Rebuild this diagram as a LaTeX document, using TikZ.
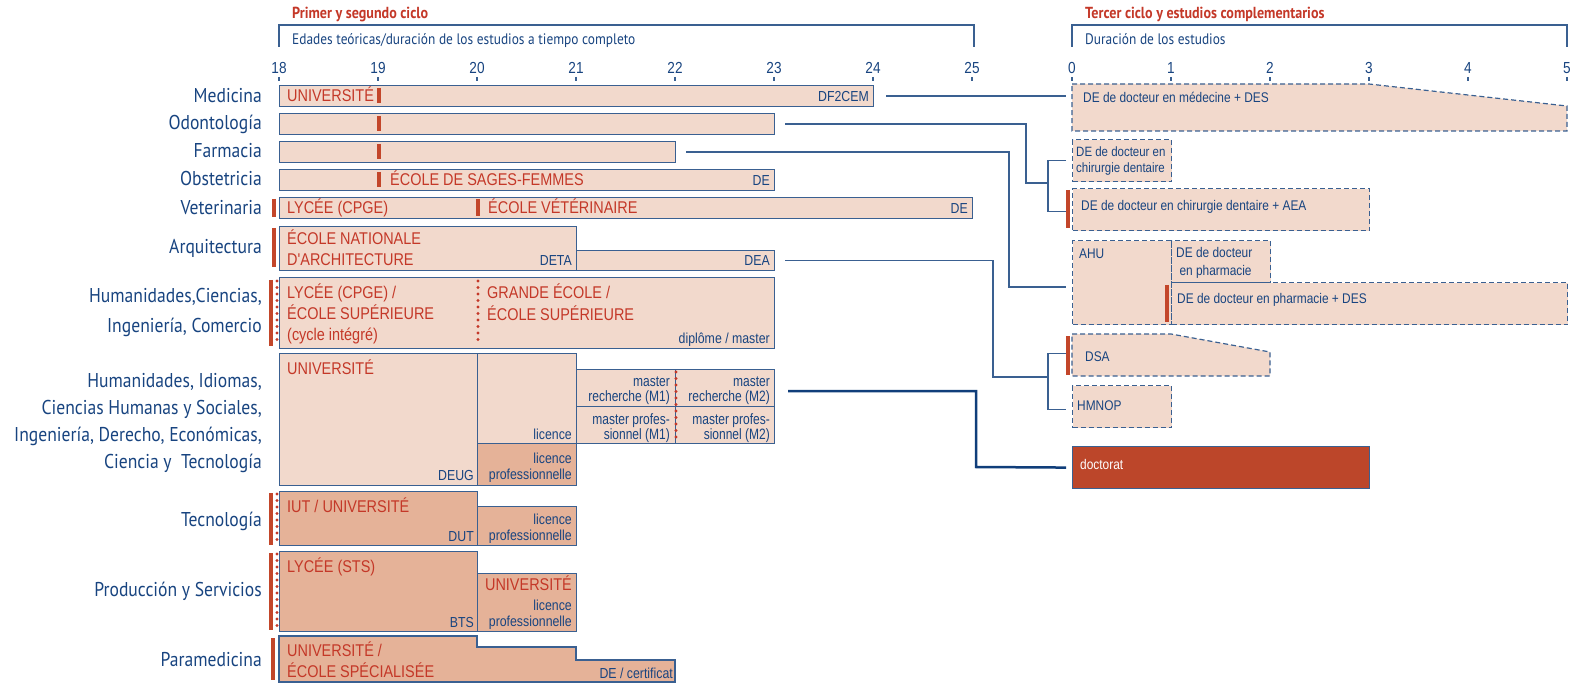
\documentclass[tikz,border=0pt]{standalone}
\usepackage{fontspec}
\setmainfont{Liberation Sans}
\newfontfamily\nar[FakeStretch=0.85]{Liberation Sans}
\newfontfamily\mnar[FakeStretch=0.8]{Liberation Sans}
\newfontfamily\myr[FakeStretch=0.88]{PT Sans}
\usetikzlibrary{calc}
\definecolor{navy}{RGB}{24,68,128}
\definecolor{edge}{RGB}{58,96,145}
\definecolor{lfill}{RGB}{242,217,204}
\definecolor{dfill}{RGB}{229,178,152}
\definecolor{rtext}{RGB}{196,56,40}
\definecolor{rbarc}{RGB}{195,70,42}
\definecolor{docc}{RGB}{188,70,42}
\definecolor{thickc}{RGB}{16,62,122}
\begin{document}
\begin{tikzpicture}[x=1pt,y=-1pt,
  box/.style={draw=edge, line width=1.2pt, fill=lfill, rectangle, inner sep=0pt, anchor=north west},
  dbox/.style={box, fill=dfill},
  xbox/.style={box, dash pattern=on 5pt off 3pt},
  ghost/.style={rectangle, inner sep=0pt, anchor=north west},
  xpoly/.style={draw=edge, line width=1.2pt, fill=lfill, dash pattern=on 5pt off 3pt},
  rt/.style={text=rtext, font=\nar\fontsize{17}{21}\selectfont, inner sep=0pt, anchor=base west, align=left},
  rtr/.style={rt, anchor=base east, align=right},
  bt/.style={text=navy, font=\nar\fontsize{14.5}{16}\selectfont, inner sep=0pt, anchor=base east, align=right},
  mt/.style={text=navy, font=\mnar\fontsize{15}{15}\selectfont, inner sep=0pt, anchor=base east, align=right},
  st/.style={text=navy, font=\nar\fontsize{14}{16}\selectfont, inner sep=0pt, anchor=base west, align=left},
  lab/.style={text=navy, font=\myr\fontsize{20}{27}\selectfont, inner sep=0pt, anchor=base east, align=right},
  hd/.style={text=rtext, font=\myr\bfseries\fontsize{16}{18}\selectfont, inner sep=0pt, anchor=base west},
  hs/.style={text=navy, font=\myr\fontsize{15.2}{16}\selectfont, inner sep=0pt, anchor=base west},
  num/.style={text=navy, font=\nar\fontsize{16}{16}\selectfont, inner sep=0pt, anchor=base},
  rbar/.style={draw=rbarc, line width=3.5pt},
  rdots/.style={draw=rtext, line width=3.2pt, line cap=round, dash pattern=on 0pt off 6.5pt},
  brk/.style={draw=edge, line width=1.3pt},
  conn/.style={draw=edge, line width=1.3pt},
  tconn/.style={draw=thickc, line width=2.5pt}
]
\useasboundingbox (0,0) rectangle (1570,684);

% ---------- headers ----------
\node[hd] (h1) at (292,19) {Primer y segundo ciclo};
\draw[brk] (279,47) -- (279,25) -- (974,25) -- (974,47);
\node[hs] (h2) at (292,45) {Edades teóricas/duración de los estudios a tiempo completo};
\node[hd] (h3) at (1085,19) {Tercer ciclo y estudios complementarios};
\draw[brk] (1072,47) -- (1072,25) -- (1567,25) -- (1567,47);
\node[hs] (h4) at (1085,45) {Duración de los estudios};

\foreach \i in {0,...,7}{
  \pgfmathtruncatemacro{\a}{18+\i}
  \node[num] (ax\i) at (279+99*\i,74) {\a};
  \draw[brk] (279+99*\i,77) -- (279+99*\i,81);
}
\foreach \i in {0,...,5}{
  \node[num] (bx\i) at (1072+99*\i,74) {\i};
  \draw[brk] (1072+99*\i,77) -- (1072+99*\i,81);
}

% ---------- labels ----------
\node[lab] (lmed) at (262,103) {Medicina};
\node[lab] (lodo) at (262,130) {Odontología};
\node[lab] (lfar) at (262,158) {Farmacia};
\node[lab] (lobs) at (262,186) {Obstetricia};
\node[lab] (lvet) at (262,215) {Veterinaria};
\node[lab] (larq) at (262,254) {Arquitectura};
\node[lab, font=\myr\fontsize{20}{29}\selectfont] (lhc) at (262,332) {Humanidades,Ciencias,\\Ingeniería, Comercio};
\node[lab] (lhum) at (262,468) {Humanidades, Idiomas,\\Ciencias Humanas y Sociales,\\Ingeniería, Derecho, Económicas,\\Ciencia y~ Tecnología};
\node[lab] (ltec) at (262,526) {Tecnología};
\node[lab] (lpro) at (262,596) {Producción y Servicios};
\node[lab] (lpar) at (262,666) {Paramedicina};

% ---------- left boxes ----------
\node[box, minimum width=594pt, minimum height=21pt] (med) at (279,85) {};
\node[box, minimum width=495pt, minimum height=21pt] (odo) at (279,113) {};
\node[box, minimum width=396pt, minimum height=21pt] (far) at (279,141) {};
\node[box, minimum width=495pt, minimum height=21pt] (obs) at (279,169) {};
\node[box, minimum width=693pt, minimum height=21pt] (vet) at (279,197) {};
\node[box, minimum width=297pt, minimum height=44pt] (arq1) at (279,226) {};
\node[box, minimum width=198pt, minimum height=20pt] (arq2) at (576,250) {};
\node[box, minimum width=495pt, minimum height=71pt] (hc) at (279,277) {};
\node[box, minimum width=198pt, minimum height=132pt] (u1) at (279,353) {};
\node[box, minimum width=99pt, minimum height=90pt] (u2) at (477,353) {};
\node[dbox, minimum width=99pt, minimum height=42pt] (lp) at (477,443) {};
\node[box, minimum width=99pt, minimum height=37pt] (m1r) at (576,369) {};
\node[box, minimum width=99pt, minimum height=37pt] (m2r) at (675,369) {};
\node[box, minimum width=99pt, minimum height=37pt] (m1p) at (576,406) {};
\node[box, minimum width=99pt, minimum height=37pt] (m2p) at (675,406) {};
\node[dbox, minimum width=198pt, minimum height=54pt] (tc1) at (279,491) {};
\node[dbox, minimum width=99pt, minimum height=39pt] (tc2) at (477,506) {};
\node[dbox, minimum width=198pt, minimum height=80pt] (pr1) at (279,551) {};
\node[dbox, minimum width=99pt, minimum height=58pt] (pr2) at (477,573) {};
\draw[draw=edge, line width=1.2pt, fill=dfill] (279,636) -- (477,636) -- (477,647) -- (576,647) -- (576,660) -- (675,660) -- (675,682) -- (279,682) -- cycle;

% red bars and dots
\foreach \y in {85,113,141,169}{ \draw[rbar] (379,\y+3) -- (379,\y+18); }
\draw[rbar] (274,199) -- (274,217);
\draw[rbar] (478,199) -- (478,216);
\draw[rbar] (274,228) -- (274,267);
\draw[rbar] (271,280) -- (271,346);
\draw[rdots] (277,281) -- (277,346);
\draw[rdots] (478,281) -- (478,346);
\draw[rdots] (676,372) -- (676,441);
\draw[rbar] (271,493) -- (271,545);
\draw[rdots] (277,494) -- (277,545);
\draw[rbar] (271,553) -- (271,630);
\draw[rdots] (277,554) -- (277,630);
\draw[rbar] (273,638) -- (273,680);

% texts in left boxes (base anchor = last line)
\node[rt] (tmed) at (287,102) {UNIVERSITÉ};
\node[bt] (dmed) at (869,102) {DF2CEM};
\node[rt] (tobs) at (390,186) {ÉCOLE DE SAGES-FEMMES};
\node[bt] (dobs) at (770,186) {DE};
\node[rt] (tvet1) at (287,214) {LYCÉE (CPGE)};
\node[rt] (tvet2) at (488,214) {ÉCOLE VÉTÉRINAIRE};
\node[bt] (dvet) at (968,214) {DE};
\node[rt] (tarq) at (287,266) {ÉCOLE NATIONALE\\D'ARCHITECTURE};
\node[bt] (deta) at (572,266) {DETA};
\node[bt] (ddea) at (770,266) {DEA};
\node[rt, font=\nar\fontsize{17}{21.5}\selectfont] (thc1) at (287,341) {LYCÉE (CPGE) /\\ÉCOLE SUPÉRIEURE\\(cycle intégré)};
\node[rt, font=\nar\fontsize{17}{21.5}\selectfont] (thc2) at (487,320) {GRANDE ÉCOLE /\\ÉCOLE SUPÉRIEURE};
\node[bt] (dhc) at (770,343) {diplôme / master};
\node[rt] (tu1) at (287,374) {UNIVERSITÉ};
\node[bt] (deug) at (474,480) {DEUG};
\node[bt] (lic) at (572,439) {licence};
\node[bt] (lpt1) at (572,479) {licence\\professionnelle};
\node[mt] (tm1r) at (670,401) {master\\recherche (M1)};
\node[mt] (tm2r) at (770,401) {master\\recherche (M2)};
\node[mt] (tm1p) at (670,439) {master profes-\\sionnel (M1)};
\node[mt] (tm2p) at (770,439) {master profes-\\sionnel (M2)};
\node[rt] (ttc1) at (287,512) {IUT / UNIVERSITÉ};
\node[bt] (dut) at (474,541) {DUT};
\node[bt] (lpt2) at (572,540) {licence\\professionnelle};
\node[rt] (tpr1) at (287,572) {LYCÉE (STS)};
\node[bt] (bts) at (474,627) {BTS};
\node[rtr] (tpr2) at (572,590) {UNIVERSITÉ};
\node[bt] (lpt3) at (572,626) {licence\\professionnelle};
\node[rt] (tpa) at (287,677) {UNIVERSITÉ /\\ÉCOLE SPÉCIALISÉE};
\node[bt] (dpa) at (673,678) {DE / certificat};

% ---------- right boxes ----------
\draw[xpoly] (1072,84) -- (1369,84) -- (1567,106) -- (1567,131) -- (1072,131) -- cycle;
\node[ghost, minimum width=495pt, minimum height=47pt] (mdes) at (1072,84) {};
\node[xbox, minimum width=99pt, minimum height=42pt] (chir) at (1072,139) {};
\node[xbox, minimum width=297pt, minimum height=42pt] (aea) at (1072,188) {};
\node[xbox, minimum width=99pt, minimum height=84pt] (ahu) at (1072,240) {};
\node[xbox, minimum width=99pt, minimum height=42pt] (dph) at (1171,240) {};
\node[xbox, minimum width=396pt, minimum height=42pt] (dphd) at (1171,282) {};
\draw[xpoly] (1072,334) -- (1171,334) -- (1270,352) -- (1270,376) -- (1072,376) -- cycle;
\node[ghost, minimum width=198pt, minimum height=42pt] (dsa) at (1072,334) {};
\node[xbox, minimum width=99pt, minimum height=42pt] (hmn) at (1072,385) {};
\node[box, fill=docc, minimum width=297pt, minimum height=42pt] (doct) at (1072,446) {};

\draw[rbar] (1068,190) -- (1068,228);
\draw[rbar] (1167,285) -- (1167,322);
\draw[rbar] (1068,336) -- (1068,375);

\node[st] (tmdes) at (1083,103) {DE de docteur en médecine + DES};
\node[st, font=\nar\fontsize{13.5}{16}\selectfont] (tchir) at (1076,173) {DE de docteur en\\chirurgie dentaire};
\node[st] (taea) at (1081,211) {DE de docteur en chirurgie dentaire + AEA};
\node[st] (tahu) at (1079,259) {AHU};
\node[st, font=\nar\fontsize{14}{18}\selectfont] (tdph) at (1176,276) {DE de docteur\\\ en pharmacie};
\node[st] (tdphd) at (1177,304) {DE de docteur en pharmacie + DES};
\node[st] (tdsa) at (1085,361) {DSA};
\node[st] (thm) at (1077,410) {HMNOP};
\node[st, text=white] (tdoc) at (1080,469) {doctorat};

% ---------- connectors ----------
\coordinate (jo) at (1048,183);
\coordinate (jd) at (1048,377);
\draw[conn, shorten <=12pt, shorten >=6pt] (med.east) -- (mdes.west |- med.east);
\draw[conn, shorten <=10pt] (odo.east) -| (1026,183) -- (jo);
\draw[conn] ([xshift=-6pt]chir.west) -| (jo) |- ([xshift=-6pt,yshift=-2pt]aea.west);
\draw[conn, shorten <=10pt, shorten >=6pt] (far.east) -| (1009,287) -- (ahu.west |- 0,287);
\draw[conn, shorten <=10pt] (arq2.east) -| (993,377) -- (jd);
\draw[conn] ([xshift=-6pt,yshift=2pt]dsa.west) -| (jd) |- ([xshift=-6pt,yshift=-3pt]hmn.west);
\draw[tconn, shorten <=13pt, shorten >=6pt] ([yshift=-3pt]m2r.east) -| (976,467) -- (doct.west);
\end{tikzpicture}
\end{document}
